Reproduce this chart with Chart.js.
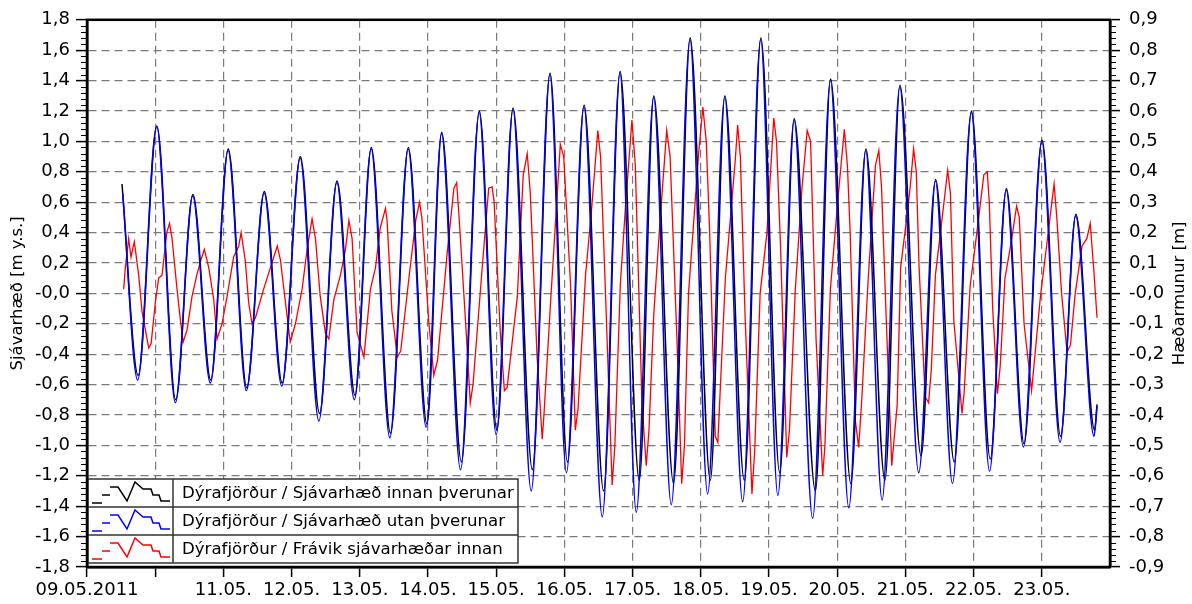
<!DOCTYPE html>
<html>
<head>
<meta charset="utf-8">
<script src="https://cdn.jsdelivr.net/npm/chart.js@4.4.1/dist/chart.umd.min.js"></script>
<style>
html,body{margin:0;padding:0;background:#fff;}
#wrap{width:1192px;height:604px;}
</style>
</head>
<body>
<div id="wrap"><canvas id="c" width="1192" height="604"></canvas></div>
<script>
// ---- data (time in days after 09.05.2011 00:00) ----
const seriesNames = [
  'Dýrafjörður / Sjávarhæð innan þverunar',
  'Dýrafjörður / Sjávarhæð utan þverunar',
  'Dýrafjörður / Frávik sjávarhæðar innan'
];
const xTickLabels = ['09.05.2011','', '11.05.','12.05.','13.05.','14.05.','15.05.','16.05.','17.05.','18.05.','19.05.','20.05.','21.05.','22.05.','23.05.',''];

const blueTimes = [0.523,0.743,1.022,1.296,1.550,1.809,2.068,2.337,2.597,2.856,3.125,3.399,3.663,3.92,4.166,4.44,4.709,4.973,5.198,5.477,5.75,6.0,6.245,6.513,6.787,7.03,7.286,7.555,7.814,8.054,8.308,8.567,8.841,9.10,9.35,9.614,9.878,10.13,10.367,10.64,10.9,11.17,11.418,11.658,11.917,12.195,12.44,12.69,12.966,13.234,13.478,13.73,14.0,14.268,14.497,14.766,14.81];
const blueValues = [0.66,-0.57,1.10,-0.72,0.64,-0.59,0.94,-0.64,0.66,-0.61,0.89,-0.84,0.73,-0.70,0.95,-0.95,0.95,-0.88,1.05,-1.16,1.19,-0.93,1.21,-1.30,1.44,-1.18,1.23,-1.47,1.45,-1.44,1.29,-1.39,1.67,-1.32,1.29,-1.37,1.67,-1.33,1.14,-1.48,1.40,-1.41,0.94,-1.36,1.36,-1.18,0.74,-1.25,1.19,-1.17,0.68,-1.01,1.0,-0.98,0.51,-0.94,-0.74];

const blackTimes = [0.513,0.75,1.025,1.30,1.553,1.815,2.071,2.342,2.600,2.862,3.128,3.41,3.666,3.93,4.169,4.45,4.712,4.985,5.201,5.49,5.753,6.01,6.248,6.53,6.79,7.045,7.289,7.575,7.817,8.098,8.311,8.60,8.844,9.14,9.353,9.638,9.881,10.157,10.37,10.68,10.903,11.20,11.421,11.70,11.92,12.23,12.443,12.717,12.969,13.244,13.481,13.74,14.003,14.275,14.50,14.775,14.81];
const blackValues = [0.72,-0.54,1.10,-0.70,0.65,-0.57,0.95,-0.62,0.67,-0.59,0.90,-0.79,0.74,-0.67,0.96,-0.92,0.96,-0.86,1.06,-1.11,1.20,-0.90,1.22,-1.16,1.45,-1.11,1.24,-1.30,1.46,-1.23,1.30,-1.25,1.68,-1.23,1.30,-1.23,1.68,-1.18,1.15,-1.30,1.41,-1.25,0.95,-1.23,1.37,-1.07,0.75,-1.11,1.20,-1.09,0.69,-0.99,1.01,-0.94,0.52,-0.90,-0.73];

const redTimes = [0.538,0.562,0.611,0.645,0.694,0.758,0.807,0.856,0.905,0.94,1.002,1.05,1.10,1.17,1.21,1.247,1.32,1.37,1.41,1.467,1.54,1.61,1.67,1.72,1.785,1.858,1.907,1.98,2.054,2.15,2.225,2.26,2.32,2.37,2.42,2.47,2.59,2.69,2.79,2.836,2.91,2.98,3.056,3.154,3.227,3.30,3.35,3.42,3.496,3.545,3.62,3.716,3.79,3.84,3.887,3.96,4.06,4.156,4.23,4.30,4.377,4.40,4.47,4.55,4.60,4.72,4.82,4.875,4.91,5.01,5.085,5.14,5.28,5.38,5.42,5.45,5.55,5.62,5.66,5.795,5.89,5.94,5.97,6.06,6.12,6.16,6.31,6.396,6.455,6.50,6.60,6.675,6.70,6.797,6.94,6.99,7.09,7.16,7.20,7.31,7.40,7.49,7.53,7.59,7.70,7.74,7.82,7.90,7.99,8.04,8.137,8.20,8.24,8.31,8.406,8.50,8.55,8.65,8.72,8.76,8.82,8.97,9.03,9.08,9.13,9.212,9.25,9.36,9.506,9.54,9.58,9.65,9.75,9.79,9.87,9.97,10.07,10.11,10.17,10.26,10.30,10.386,10.485,10.56,10.61,10.69,10.787,10.82,10.90,11.02,11.105,11.15,11.19,11.267,11.315,11.36,11.45,11.56,11.61,11.65,11.72,11.80,11.88,11.93,12.02,12.07,12.12,12.16,12.20,12.29,12.34,12.38,12.44,12.54,12.62,12.66,12.71,12.83,12.86,12.95,13.05,13.15,13.2,13.23,13.28,13.35,13.39,13.46,13.56,13.63,13.67,13.74,13.85,13.88,13.98,14.07,14.18,14.22,14.29,14.37,14.42,14.49,14.59,14.66,14.71,14.76,14.81];
const redValues = [0.014,0.085,0.18,0.12,0.17,0.06,-0.06,-0.12,-0.18,-0.165,-0.03,0.05,0.06,0.20,0.23,0.18,0.014,-0.09,-0.16,-0.12,-0.01,0.06,0.11,0.145,0.085,-0.02,-0.15,-0.10,-0.01,0.12,0.156,0.20,0.11,-0.03,-0.10,-0.08,0.014,0.085,0.156,0.11,-0.03,-0.16,-0.10,0.014,0.145,0.245,0.18,-0.01,-0.13,-0.15,-0.02,0.06,0.145,0.24,0.18,-0.128,-0.21,0.014,0.085,0.216,0.28,0.24,-0.057,-0.21,-0.19,0.05,0.24,0.30,0.25,-0.09,-0.27,-0.22,0.13,0.346,0.364,0.27,-0.09,-0.36,-0.30,0.085,0.346,0.35,0.30,-0.128,-0.32,-0.31,-0.01,0.39,0.46,0.33,-0.21,-0.48,-0.40,-0.03,0.49,0.45,0.03,-0.45,-0.38,0.06,0.28,0.536,0.45,0.08,-0.63,-0.50,0.03,0.30,0.57,0.42,-0.36,-0.567,-0.45,-0.07,0.25,0.536,0.45,-0.15,-0.626,-0.50,0.0,0.465,0.613,0.50,0.20,-0.47,-0.49,0.05,0.44,0.554,0.45,-0.08,-0.66,-0.52,0.0,0.20,0.577,0.50,0.15,-0.54,-0.45,0.014,0.35,0.536,0.50,-0.15,-0.60,-0.50,0.014,0.334,0.54,0.42,0.20,-0.42,-0.507,-0.35,0.03,0.42,0.47,0.35,-0.09,-0.567,-0.365,0.085,0.25,0.35,0.476,0.40,0.09,-0.34,-0.36,-0.25,0.06,0.25,0.405,0.33,-0.09,-0.395,-0.33,0.026,0.204,0.39,0.40,0.30,-0.05,-0.33,-0.24,0.05,0.18,0.287,0.25,-0.10,-0.32,-0.25,-0.01,0.156,0.36,0.25,0.0,-0.193,-0.17,0.0,0.156,0.18,0.23,0.085,-0.08];

const seriesColors = ['#000000','#0000ff','#ff0000'];

// ---- helpers ----
const toPts = (ts, vs) => ts.map((t, i) => ({x: t, y: vs[i]}));
const fmt = v => Math.abs(v) < 1e-9 ? '-0,0' : v.toFixed(1).replace('.', ',');
const FONT = 'DejaVu Sans';
Chart.defaults.font.family = FONT;
Chart.defaults.color = '#000';

const gridCommon = {color: '#7a7a7a', lineWidth: 1.2, tickColor: '#000', tickWidth: 1.5};
const borderCommon = {display: true, color: '#000', width: 2.5, dash: [8, 5]};

const extrasPlugin = {
  id: 'extras',
  afterDatasetsDraw(chart) {
    const ctx = chart.ctx, a = chart.chartArea;
    // legend box
    const L = a.left + 1, R = 518, rowH = 28, B = a.bottom - 4, T = B - 3 * rowH, S = 173;
    ctx.save();
    ctx.fillStyle = '#fff';
    ctx.fillRect(L, T, R - L, B - T);
    ctx.strokeStyle = '#333';
    ctx.lineWidth = 1.5;
    ctx.strokeRect(L, T, R - L, B - T);
    ctx.beginPath();
    ctx.moveTo(S, T); ctx.lineTo(S, B);
    for (let i = 1; i < 3; i++) { ctx.moveTo(L, T + i * rowH); ctx.lineTo(R, T + i * rowH); }
    ctx.stroke();
    chart.data.datasets.forEach((ds, i) => {
      const t = T + i * rowH;
      ctx.strokeStyle = ds.borderColor;
      ctx.lineWidth = 1.5;
      ctx.beginPath();
      ctx.moveTo(92, t + 24); ctx.lineTo(102, t + 24);
      ctx.moveTo(102, t + 16); ctx.lineTo(110, t + 16);
      ctx.moveTo(110, t + 8); ctx.lineTo(118, t + 8); ctx.lineTo(127, t + 22); ctx.lineTo(135, t + 3);
      ctx.lineTo(143, t + 10); ctx.lineTo(151, t + 10); ctx.lineTo(153, t + 16); ctx.lineTo(159, t + 16);
      ctx.lineTo(161, t + 22); ctx.lineTo(170, t + 22);
      ctx.stroke();
      ctx.fillStyle = '#000';
      ctx.font = '16.6px "' + FONT + '"';
      ctx.textBaseline = 'middle';
      ctx.textAlign = 'left';
      ctx.fillText(ds.label, 182, t + rowH / 2 + 1);
    });
    ctx.restore();
  },
  afterDraw(chart) {
    const ctx = chart.ctx, a = chart.chartArea;
    const y = chart.scales.y, y2 = chart.scales.y2;
    ctx.save();
    // minor ticks
    ctx.strokeStyle = '#000';
    ctx.lineWidth = 1;
    ctx.beginPath();
    for (let k = -45; k <= 45; k++) {
      if (k % 5 === 0) continue;
      const p = Math.round(y.getPixelForValue(k * 0.04)) + 0.5;
      ctx.moveTo(a.left - 6, p); ctx.lineTo(a.left, p);
      const q = Math.round(y2.getPixelForValue(k * 0.02)) + 0.5;
      ctx.moveTo(a.right, q); ctx.lineTo(a.right + 6, q);
    }
    ctx.stroke();
    // frame
    ctx.lineWidth = 2.5;
    ctx.strokeRect(a.left, a.top, a.right - a.left, a.bottom - a.top);
    // right axis title (reads bottom to top)
    ctx.translate(1180, (a.top + a.bottom) / 2);
    ctx.rotate(-Math.PI / 2);
    ctx.fillStyle = '#000';
    ctx.font = '16.5px "' + FONT + '"';
    ctx.textAlign = 'center';
    ctx.textBaseline = 'middle';
    ctx.fillText('Hæðarmunur [m]', 0, 0);
    ctx.restore();
  }
};

new Chart(document.getElementById('c'), {
  type: 'line',
  data: {
    datasets: [
      {label: seriesNames[0], data: toPts(blackTimes, blackValues), borderColor: seriesColors[0], borderWidth: 1.5, cubicInterpolationMode: 'monotone', yAxisID: 'y', order: 2},
      {label: seriesNames[1], data: toPts(blueTimes, blueValues), borderColor: seriesColors[1], borderWidth: 1.5, cubicInterpolationMode: 'monotone', yAxisID: 'y', order: 1},
      {label: seriesNames[2], data: toPts(redTimes, redValues), borderColor: seriesColors[2], borderWidth: 1.3, tension: 0, yAxisID: 'y2', order: 3}
    ]
  },
  options: {
    responsive: false,
    animation: false,
    devicePixelRatio: 1,
    layout: {padding: {top: 15, right: 0, bottom: 0, left: 0}},
    elements: {point: {radius: 0}},
    plugins: {legend: {display: false}, tooltip: {enabled: false}},
    scales: {
      x: {
        type: 'linear', min: 0, max: 15, position: 'bottom',
        ticks: {stepSize: 1, autoSkip: false, maxRotation: 0, font: {size: 18}, color: '#000', padding: 3,
          callback: v => xTickLabels[Math.round(v)] || ''},
        grid: Object.assign({}, gridCommon, {tickLength: 10,
          tickColor: c => (c.tick && c.tick.value === 15) ? 'rgba(0,0,0,0)' : '#000'}),
        border: borderCommon,
        afterFit: s => { s.height = 37; }
      },
      y: {
        position: 'left', min: -1.8, max: 1.8,
        ticks: {stepSize: 0.2, font: {size: 18}, color: '#000', padding: 6, callback: fmt},
        grid: Object.assign({}, gridCommon, {tickLength: 11}),
        border: borderCommon,
        title: {display: true, text: 'Sjávarhæð [m y.s.]', font: {size: 16.5}, color: '#000', padding: {top: 8, bottom: 0}},
        afterFit: s => { s.width = 87; }
      },
      y2: {
        position: 'right', min: -0.9, max: 0.9,
        ticks: {stepSize: 0.1, font: {size: 18}, color: '#000', padding: 9, callback: fmt},
        grid: Object.assign({}, gridCommon, {drawOnChartArea: false, tickLength: 10}),
        border: {display: true, color: '#000', width: 2.5},
        afterFit: s => { s.width = 82; }
      }
    }
  },
  plugins: [extrasPlugin]
});
</script>
</body>
</html>
